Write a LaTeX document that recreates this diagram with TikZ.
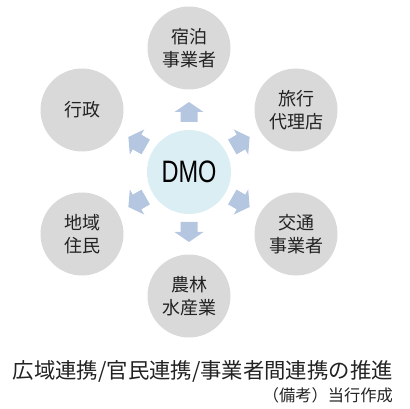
\documentclass[tikz,border=0pt]{standalone}
\usepackage{fontspec}
\setmainfont{Liberation Sans}
\newfontfamily\jp{Noto Sans CJK JP}
\usetikzlibrary{calc}
\definecolor{cgray}{HTML}{D9D9D9}
\definecolor{cblue}{HTML}{DBEEF4}
\definecolor{carrow}{HTML}{B4C6E0}
\definecolor{ctext}{HTML}{222222}
\begin{document}
\begin{tikzpicture}[x=1pt,y=-1pt,
  outer/.style={circle,fill=cgray,minimum size=83pt,inner sep=0pt,align=center,
    font=\jp\fontsize{18}{23}\selectfont,text=ctext},
  center/.style={circle,fill=cblue,minimum size=84pt,inner sep=0pt,text=black},
  blockarrow/.pic={\fill[carrow] (0,-10)--(14.5,0)--(8.5,0)--(8.5,10)--(-8.5,10)--(-8.5,0)--(-14.5,0)--cycle;}]
\useasboundingbox (0,0) rectangle (410,409);
\node[center] (dmo) at (189,172) {\scalebox{0.76}[1]{\fontsize{31}{31}\selectfont DMO}};
\node[outer] (a) at (189,48) {宿泊\\事業者};
\node[outer] (b) at (296,110) {旅行\\代理店};
\node[outer] (c) at (296,234) {交通\\事業者};
\node[outer] (d) at (189,296) {農林\\水産業};
\node[outer] (e) at (82,234) {地域\\住民};
\node[outer] (f) at (82,110) {行政};
\foreach \ang in {90,30,-30,-90,-150,150}{
  \pic[rotate=\ang-90] at ($(dmo)+(\ang:60 and -60)$) {blockarrow};
}
\node[text=ctext,anchor=east,inner sep=0pt] (cap) at (393,371) {\resizebox{380pt}{!}{\jp\fontsize{18.5}{22}\selectfont 広域連携/官民連携/事業者間連携の推進}};
\node[text=ctext,anchor=east,inner sep=0pt] (note) at (393,395) {\resizebox{130pt}{!}{\jp\fontsize{16}{18}\selectfont （備考）当行作成}};
\end{tikzpicture}
\end{document}
